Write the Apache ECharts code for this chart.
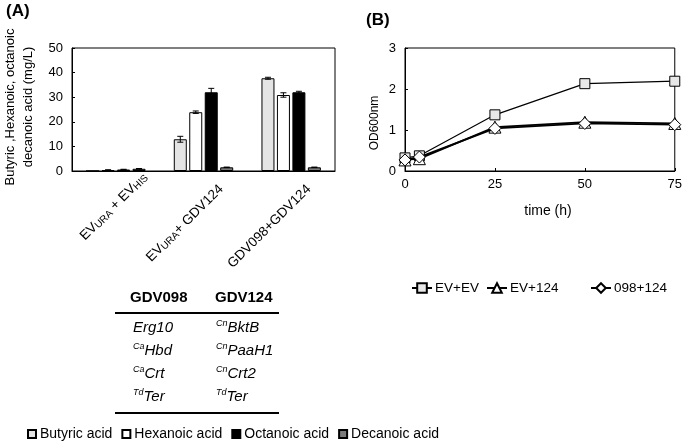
<!DOCTYPE html>
<html><head><meta charset="utf-8">
<script src="https://cdn.jsdelivr.net/npm/echarts@6/dist/echarts.min.js"></script>
<style>html,body{margin:0;padding:0;background:#fff}#c{width:685px;height:441px}</style>
</head><body><div id="c"></div>
<script>
// ---- Panel A data ----
const categories = ['EV{sub|URA} + EV{sub|HIS}', 'EV{sub|URA}+ GDV124', 'GDV098+GDV124'];
const barNames = ['Butyric acid', 'Hexanoic acid', 'Octanoic acid', 'Decanoic acid'];
const butyric = [0, 12.9, 37.7];
const hexanoic = [0.4, 23.9, 30.9];
const octanoic = [0.6, 32.0, 32.0];
const decanoic = [0.9, 1.5, 1.5];
const butyricErr = [0, 1.2, 0.4];
const hexanoicErr = [0.1, 0.5, 0.9];
const octanoicErr = [0.1, 1.6, 0.4];
const decanoicErr = [0.1, 0.1, 0.1];
const yTicksA = [0, 10, 20, 30, 40, 50];
// ---- Panel B data ----
const timeH = [0, 4, 25, 50, 75];
const evEv = [0.32, 0.37, 1.37, 2.13, 2.19];
const ev124 = [0.27, 0.30, 1.07, 1.19, 1.16];
const g098124 = [0.27, 0.34, 1.04, 1.16, 1.13];
const lineNames = ['EV+EV', 'EV+124', '098+124'];
// ---- Table ----
const tableHeaders = ['GDV098', 'GDV124'];
const gdv098Genes = [['', 'Erg10'], ['Ca', 'Hbd'], ['Ca', 'Crt'], ['Td', 'Ter']];
const gdv124Genes = [['Cn', 'BktB'], ['Cn', 'PaaH1'], ['Cn', 'Crt2'], ['Td', 'Ter']];

const FONT = '"Liberation Sans", Arial, sans-serif';
const barVals = [butyric, hexanoic, octanoic, decanoic];
const barErrs = [butyricErr, hexanoicErr, octanoicErr, decanoicErr];
const barColors = ['#e4e4e4', '#ffffff', '#000000', '#7a7a7a'];
const BAR_W = 13, GAP_PCT = 19;
const step = BAR_W * (1 + GAP_PCT / 100);
// label placement (Excel-like rotated labels)
const labelSpacer = [0, 17, 17];
const fwd = 21;

const chart = echarts.init(document.getElementById('c'));

const barSeries = barNames.map((n, i) => ({
  name: n, type: 'bar', xAxisIndex: 0, yAxisIndex: 0,
  barWidth: BAR_W, barGap: GAP_PCT + '%',
  itemStyle: { color: barColors[i], borderColor: '#000', borderWidth: 1 },
  data: barVals[i]
}));

const errData = [];
barErrs.forEach((arr, si) => arr.forEach((e, ci) => errData.push([ci, barVals[si][ci], e, si])));

const errSeries = {
  type: 'custom', xAxisIndex: 0, yAxisIndex: 0, z: 5,
  encode: { x: 0, y: 1 },
  data: errData,
  renderItem: function (params, api) {
    const ci = api.value(0), v = api.value(1), e = api.value(2), si = api.value(3);
    if (e <= 0) return null;
    const off = (si - 1.5) * step;
    const hi = api.coord([ci, v + e]);
    const lo = api.coord([ci, v - e]);
    const x = hi[0] + off;
    const cap = 3;
    const st = { stroke: '#000', lineWidth: 1 };
    return { type: 'group', children: [
      { type: 'line', shape: { x1: x, y1: hi[1], x2: x, y2: lo[1] }, style: st },
      { type: 'line', shape: { x1: x - cap, y1: hi[1], x2: x + cap, y2: hi[1] }, style: st },
      { type: 'line', shape: { x1: x - cap, y1: lo[1], x2: x + cap, y2: lo[1] }, style: st }
    ]};
  }
};

const lineStyles = [
  { symbol: 'rect', size: 10, fill: '#e8e8e8', w: 1.2, data: evEv },
  { symbol: 'triangle', size: 12, fill: '#ffffff', w: 1.8, data: ev124 },
  { symbol: 'diamond', size: 12, fill: '#ffffff', w: 1.8, data: g098124 }
];
const lineSeries = lineNames.map((n, i) => ({
  name: n, type: 'line', xAxisIndex: 1, yAxisIndex: 1,
  symbol: lineStyles[i].symbol, symbolSize: lineStyles[i].size,
  showAllSymbol: true,
  lineStyle: { color: '#000', width: lineStyles[i].w },
  itemStyle: { color: lineStyles[i].fill, borderColor: '#000', borderWidth: 1 },
  z: 3 + i,
  data: timeH.map((t, k) => [t, lineStyles[i].data[k]])
}));

// table graphics
const tableGraphics = [];
const col1X = 131, col2X = 216;
tableGraphics.push({ type: 'text', left: col1X - 1, top: 290, style: { text: tableHeaders[0], font: 'bold 15px ' + FONT, fill: '#000' } });
tableGraphics.push({ type: 'text', left: col2X - 1, top: 290, style: { text: tableHeaders[1], font: 'bold 15px ' + FONT, fill: '#000' } });
tableGraphics.push({ type: 'line', shape: { x1: 115, y1: 313, x2: 279, y2: 313 }, style: { stroke: '#000', lineWidth: 2 } });
tableGraphics.push({ type: 'line', shape: { x1: 115, y1: 413, x2: 279, y2: 413 }, style: { stroke: '#000', lineWidth: 2 } });
const richSup = { sup: { fontSize: 9, fontStyle: 'italic', fontFamily: FONT, verticalAlign: 'top', lineHeight: 18 }, m: { fontSize: 15, fontStyle: 'italic', fontFamily: FONT, lineHeight: 18 } };
[gdv098Genes, gdv124Genes].forEach((col, c) => {
  col.forEach((g, r) => {
    const txt = (g[0] ? '{sup|' + g[0] + '}' : '') + '{m|' + g[1] + '}';
    tableGraphics.push({ type: 'text', x: c === 0 ? col1X + 2 : col2X, y: 328 + r * 23,
      style: { text: txt, rich: richSup, fill: '#000', textVerticalAlign: 'middle', verticalAlign: 'middle' } });
  });
});

const legendB = lineNames.map((n, i) => ({
  data: [n], left: [406, 481, 585][i], top: 276, padding: 5, itemWidth: 20, itemHeight: 12, itemGap: 3,
  textStyle: { fontSize: 13.5, fontFamily: FONT, color: '#000', padding: [0, 0, 0, -2] }
}));

const option = {
  animation: false,
  backgroundColor: '#fff',
  textStyle: { fontFamily: FONT, color: '#000' },
  grid: [
    { left: 72, right: 350, top: 48, bottom: 270, show: true, borderColor: '#000', borderWidth: 1, backgroundColor: 'transparent' },
    { left: 405, right: 9, top: 48, bottom: 270, show: true, borderColor: '#000', borderWidth: 1, backgroundColor: 'transparent' }
  ],
  legend: [
    { data: barNames, left: 22, top: 422, itemWidth: 8, itemHeight: 8, itemGap: 9, icon: 'rect',
      textStyle: { fontSize: 14, fontFamily: FONT, color: '#000', padding: [0, 0, 0, -1] } }
  ].concat(legendB),
  xAxis: [
    { type: 'category', gridIndex: 0,
      data: categories.map((c, i) => c + '{sp| }'),
      axisLine: { lineStyle: { color: '#000' } },
      axisTick: { alignWithLabel: true, length: 3, lineStyle: { color: '#000' } },
      axisLabel: { interval: 0, rotate: 45, margin: 4 - fwd * Math.SQRT2, fontSize: 13.5, color: '#000', fontFamily: FONT,
        padding: [42 + 2 * fwd, 0, 0, 0],
        formatter: function (v, idx) { return v.replace('{sp| }', '{sp' + idx + '| }'); },
        rich: {
          sub: { fontSize: 10, fontFamily: FONT, color: '#000', verticalAlign: 'bottom', lineHeight: 12 },
          sp0: { width: labelSpacer[0] || 0.1, fontSize: 1 },
          sp1: { width: labelSpacer[1], fontSize: 1 },
          sp2: { width: labelSpacer[2], fontSize: 1 }
        } }
    },
    { type: 'value', gridIndex: 1, min: 0, max: 75, interval: 25,
      axisLine: { lineStyle: { color: '#000' } },
      axisTick: { inside: true, length: 3, lineStyle: { color: '#000' } },
      splitLine: { show: false },
      axisLabel: { margin: 7, fontSize: 13, color: '#000', fontFamily: FONT }
    }
  ],
  yAxis: [
    { type: 'value', gridIndex: 0, min: yTicksA[0], max: yTicksA[yTicksA.length - 1], interval: 10,
      axisLine: { show: true, lineStyle: { color: '#000' } },
      axisTick: { show: true, inside: true, length: 3, lineStyle: { color: '#000' } },
      splitLine: { show: false },
      axisLabel: { margin: 9, fontSize: 13, color: '#000', fontFamily: FONT }
    },
    { type: 'value', gridIndex: 1, min: 0, max: 3, interval: 1,
      axisLine: { show: true, lineStyle: { color: '#000' } },
      axisTick: { show: true, inside: true, length: 3, lineStyle: { color: '#000' } },
      splitLine: { show: false },
      axisLabel: { margin: 9, fontSize: 13, color: '#000', fontFamily: FONT }
    }
  ],
  graphic: [
    { type: 'text', left: 6, top: 3, style: { text: '(A)', font: 'bold 17px ' + FONT, fill: '#000' } },
    { type: 'text', left: 366, top: 12, style: { text: '(B)', font: 'bold 17px ' + FONT, fill: '#000' } },
    { type: 'text', x: 19, y: 107, rotation: Math.PI / 2,
      style: { text: 'Butyric ,Hexanoic, octanoic\ndecanoic acid (mg/L)', font: '13px ' + FONT, fill: '#000',
        textAlign: 'center', textVerticalAlign: 'middle', align: 'center', verticalAlign: 'middle', lineHeight: 18 } },
    { type: 'text', x: 375, y: 123, rotation: Math.PI / 2,
      style: { text: 'OD600nm', font: '12px ' + FONT, fill: '#000', textAlign: 'center', textVerticalAlign: 'middle', align: 'center', verticalAlign: 'middle' } },
    { type: 'text', x: 548, y: 211,
      style: { text: 'time (h)', font: '14px ' + FONT, fill: '#000', textAlign: 'center', textVerticalAlign: 'middle', align: 'center', verticalAlign: 'middle' } }
  ].concat(tableGraphics),
  series: barSeries.concat([errSeries]).concat(lineSeries)
};
chart.setOption(option);
</script>
</body></html>
